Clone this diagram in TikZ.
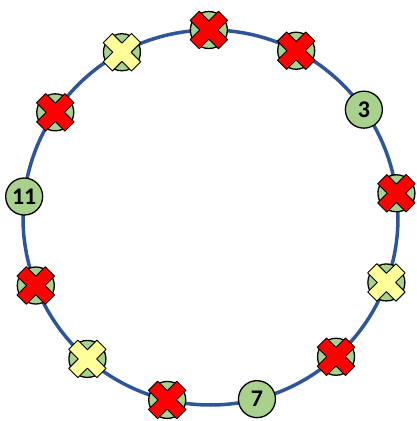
\documentclass[tikz,border=0pt]{standalone}
\usepackage{fontspec}
\setmainfont{Carlito}
\definecolor{ringblue}{RGB}{47,85,151}
\definecolor{seatgreen}{RGB}{169,209,142}
\definecolor{crossred}{RGB}{255,0,0}
\definecolor{crossyellow}{RGB}{255,255,153}
\tikzset{
  ring/.style={draw=ringblue, line width=3.5bp},
  seat/.style={circle, draw=black, line width=1.3bp, fill=seatgreen,
    minimum size=37bp, inner sep=0pt, font=\fontsize{24}{24}\selectfont\bfseries},
  xmark/.style={draw=black, line width=0.9bp, line join=round},
}

\begin{document}
\begin{tikzpicture}[x=1bp, y=1bp]

    \useasboundingbox (0,0) rectangle (417,421);
    \coordinate (c) at (210.5,203.5);

    \draw[ring] (c) circle[radius=187.5];

    % 13 seats, clockwise from the top
    \begin{scope}[shift={(c)}]
    \foreach \i/\etiqueta in {
        0/, 1/, 2/3, 3/, 4/, 5/, 6/7,
        7/, 8/, 9/, 10/11, 11/, 12/%
    } {
        \node[seat] (s\i) at ({90.5-\i*360/13}:187.5) {\etiqueta};
    }
    \end{scope}

    % crossed out seats
    \foreach \s/\tinta in {
        0/crossred, 1/crossred, 3/crossred, 4/crossyellow,
        5/crossred, 7/crossred, 8/crossyellow, 9/crossred,
        11/crossred, 12/crossyellow%
    } {
        \draw[xmark, fill=\tinta, shift={(s\s)}, rotate=45]
            (6.5,6.5) -- (20,6.5) -- (20,-6.5) -- (6.5,-6.5) -- (6.5,-20)
            -- (-6.5,-20) -- (-6.5,-6.5) -- (-20,-6.5) -- (-20,6.5)
            -- (-6.5,6.5) -- (-6.5,20) -- (6.5,20) -- cycle;
    }

\end{tikzpicture}
\end{document}
